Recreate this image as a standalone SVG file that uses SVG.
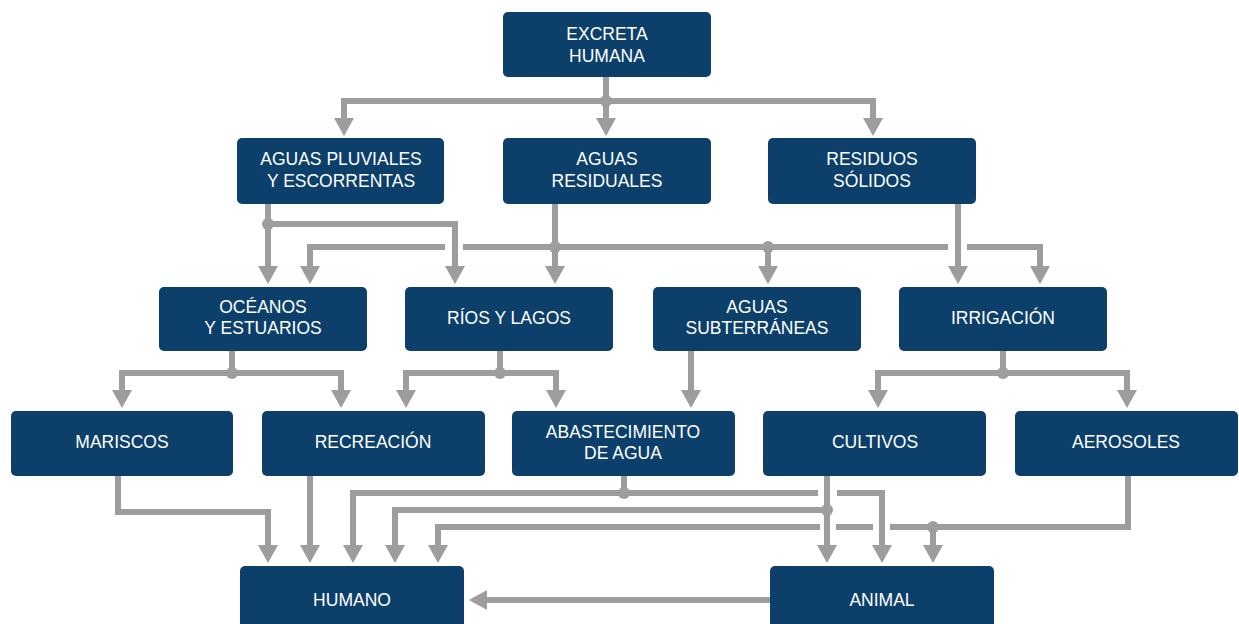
<svg xmlns="http://www.w3.org/2000/svg" width="1239" height="624" viewBox="0 0 1239 624">
<style>
.box{fill:#0c406b}
.t{fill:#ffffff;font-family:"Liberation Sans",Arial,sans-serif;font-size:17.5px;text-anchor:middle}
.c{fill:none;stroke:#9d9d9d;stroke-width:6}
.a{marker-end:url(#arr)}
.d{fill:#9d9d9d}
</style>
<defs>
<marker id="arr" markerUnits="userSpaceOnUse" viewBox="0 0 18 20" refX="0" refY="10" markerWidth="18" markerHeight="20" orient="auto">
<path d="M0,0 L18,10 L0,20 z" fill="#9d9d9d"/>
</marker>
</defs>
<rect width="1239" height="624" fill="#ffffff"/>
<g id="connectors">
<path class="c a" d="M606,77 V118"/>
<path class="c a" d="M606,101 H344 V118"/>
<path class="c a" d="M606,101 H873 V118"/>
<circle class="d" cx="606" cy="101" r="6"/>

<path class="c a" d="M268,204 V266"/>
<path class="c a" d="M268,224 H455 V266"/>
<circle class="d" cx="268" cy="224" r="6"/>
<path class="c a" d="M555,204 V266"/>
<path class="c" d="M555,247 H463"/>
<path class="c a" d="M445,247 H310 V266"/>
<path class="c a" d="M555,247 H768 V266"/>
<path class="c" d="M768,247 H948"/>
<path class="c a" d="M967,247 H1040 V266"/>
<circle class="d" cx="555" cy="247" r="6"/>
<circle class="d" cx="768" cy="247" r="6"/>
<path class="c a" d="M958,204 V266"/>

<path class="c a" d="M232,351 V373 H122 V390"/>
<path class="c a" d="M232,373 H341 V390"/>
<circle class="d" cx="232" cy="373" r="6"/>
<path class="c a" d="M500,351 V373 H406 V390"/>
<path class="c a" d="M500,373 H556 V390"/>
<circle class="d" cx="500" cy="373" r="6"/>
<path class="c a" d="M691,351 V390"/>
<path class="c a" d="M1003,351 V373 H878 V390"/>
<path class="c a" d="M1003,373 H1127 V390"/>
<circle class="d" cx="1003" cy="373" r="6"/>

<path class="c a" d="M118,476 V512 H268 V545"/>
<path class="c a" d="M310,476 V545"/>
<path class="c a" d="M624,476 V493 H353 V545"/>
<path class="c" d="M624,493 H818"/>
<path class="c a" d="M837,493 H882 V545"/>
<circle class="d" cx="624" cy="493" r="6"/>
<path class="c a" d="M827,476 V545"/>
<path class="c a" d="M827,510 H395 V545"/>
<circle class="d" cx="827" cy="510" r="6"/>
<path class="c" d="M1128,476 V527 H890"/>
<path class="c" d="M873,527 H836"/>
<path class="c a" d="M820,527 H438 V545"/>
<path class="c a" d="M933,527 V545"/>
<circle class="d" cx="933" cy="527" r="6"/>

<path class="c a" d="M770,600 H487"/>
</g>

<g id="n-excreta"><rect class="box" x="503" y="12" width="208" height="65" rx="5"/><text class="t" x="607" y="40">EXCRETA</text><text class="t" x="607" y="62">HUMANA</text></g>

<g id="n-pluviales"><rect class="box" x="237" y="138" width="207" height="66" rx="5"/><text class="t" x="341" y="165">AGUAS PLUVIALES</text><text class="t" x="341" y="187">Y ESCORRENTAS</text></g>
<g id="n-residuales"><rect class="box" x="503" y="138" width="208" height="66" rx="5"/><text class="t" x="607" y="165">AGUAS</text><text class="t" x="607" y="187">RESIDUALES</text></g>
<g id="n-solidos"><rect class="box" x="768" y="138" width="208" height="66" rx="5"/><text class="t" x="872" y="165">RESIDUOS</text><text class="t" x="872" y="187">SÓLIDOS</text></g>

<g id="n-oceanos"><rect class="box" x="159" y="287" width="208" height="64" rx="5"/><text class="t" x="263" y="313">OCÉANOS</text><text class="t" x="263" y="334">Y ESTUARIOS</text></g>
<g id="n-rios"><rect class="box" x="405" y="287" width="208" height="64" rx="5"/><text class="t" x="509" y="324">RÍOS Y LAGOS</text></g>
<g id="n-subterraneas"><rect class="box" x="653" y="287" width="208" height="64" rx="5"/><text class="t" x="757" y="313">AGUAS</text><text class="t" x="757" y="334">SUBTERRÁNEAS</text></g>
<g id="n-irrigacion"><rect class="box" x="899" y="287" width="208" height="64" rx="5"/><text class="t" x="1003" y="324">IRRIGACIÓN</text></g>

<g id="n-mariscos"><rect class="box" x="11" y="411" width="222" height="65" rx="5"/><text class="t" x="122" y="448">MARISCOS</text></g>
<g id="n-recreacion"><rect class="box" x="262" y="411" width="223" height="65" rx="5"/><text class="t" x="373" y="448">RECREACIÓN</text></g>
<g id="n-abastecimiento"><rect class="box" x="512" y="411" width="223" height="65" rx="5"/><text class="t" x="623" y="438">ABASTECIMIENTO</text><text class="t" x="623" y="459">DE AGUA</text></g>
<g id="n-cultivos"><rect class="box" x="763" y="411" width="223" height="65" rx="5"/><text class="t" x="875" y="448">CULTIVOS</text></g>
<g id="n-aerosoles"><rect class="box" x="1015" y="411" width="223" height="65" rx="5"/><text class="t" x="1126" y="448">AEROSOLES</text></g>

<g id="n-humano"><rect class="box" x="240" y="566" width="224" height="70" rx="5"/><text class="t" x="352" y="606">HUMANO</text></g>
<g id="n-animal"><rect class="box" x="770" y="566" width="224" height="70" rx="5"/><text class="t" x="882" y="606">ANIMAL</text></g>
</svg>
